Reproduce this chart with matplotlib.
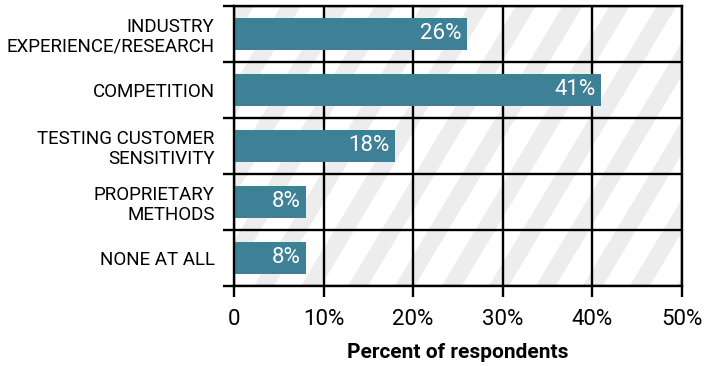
import numpy as np
import matplotlib
matplotlib.use("Agg")
import matplotlib.pyplot as plt
from matplotlib.patches import Polygon

plt.rcParams['font.family'] = ['Roboto', 'DejaVu Sans']

categories = ["INDUSTRY\nEXPERIENCE/RESEARCH", "COMPETITION", "TESTING CUSTOMER\nSENSITIVITY",
              "PROPRIETARY\nMETHODS", "NONE AT ALL"]
values = [26, 41, 18, 8, 8]
xticks = [0, 10, 20, 30, 40, 50]
xtick_labels = ["0", "10%", "20%", "30%", "40%", "50%"]

bar_color = "#3e8096"

fig = plt.figure(figsize=(7.05, 3.66), dpi=100)
ax = fig.add_axes([0.332, 0.219, 0.635, 0.765])

n = len(categories)
ax.set_xlim(0, 50)
ax.set_ylim(n, 0)

# diagonal stripes in the background (pixel-based)
w_px, h_px = 448, 280
sx = 50 / w_px
period = 47
stripe_w = 20
shift = 0.6
for c in np.arange(-h_px * shift - period, w_px + period, period):
    pts = [(c * sx, n), ((c + stripe_w) * sx, n),
           ((c + stripe_w + h_px * shift) * sx, 0), ((c + h_px * shift) * sx, 0)]
    ax.add_patch(Polygon(pts, closed=True, facecolor="#ededed", edgecolor="none", zorder=0))

y = np.arange(n) + 0.5
ax.barh(y, values, height=0.56, color=bar_color, zorder=2)
for yi, v in zip(y, values):
    ax.text(v - 0.6, yi, f"{v}%", ha="right", va="center", color="white", fontsize=16, zorder=3)

for x in xticks:
    ax.axvline(x, color="black", lw=1.7, zorder=1)
for k in range(n + 1):
    ax.axhline(k, color="black", lw=1.7, zorder=1)

ax.set_xticks(xticks)
ax.set_xticklabels(xtick_labels, fontsize=16)
ax.set_yticks(np.arange(n + 1), minor=False)
ax.set_yticklabels([])
ax.set_yticks(y, minor=True)
ax.set_yticklabels(categories, minor=True, fontsize=13.5, linespacing=1.15)
ax.tick_params(axis="y", which="minor", length=0, pad=14)
ax.tick_params(axis="y", which="major", length=8, width=1.7)
ax.tick_params(axis="x", length=8, width=1.7, pad=9)
for t in ax.get_yticklabels(minor=True):
    t.set_horizontalalignment("right")
    t.set_multialignment("right")
for s in ax.spines.values():
    s.set_linewidth(1.7)

ax.set_xlabel("Percent of respondents", fontsize=15, fontweight="bold", labelpad=9)

fig.savefig("out.png", dpi=100)
